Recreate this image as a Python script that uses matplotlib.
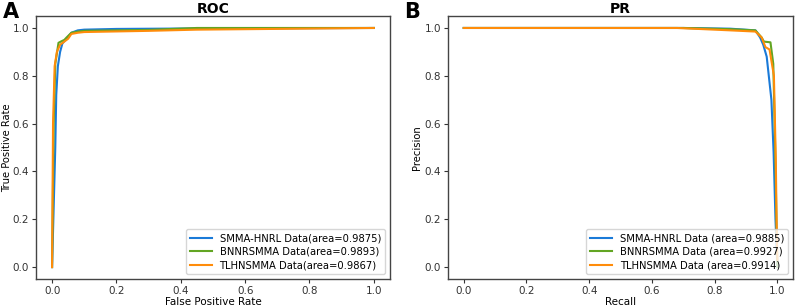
import matplotlib
matplotlib.use("Agg")
import matplotlib.pyplot as plt

# ROC curves (false positive rate, true positive rate)
roc_blue_x = [0.0, 0.010, 0.013, 0.018, 0.025, 0.032, 0.045, 0.06, 0.08, 0.10, 0.2, 0.45, 1.0]
roc_blue_y = [0.0, 0.50, 0.72, 0.84, 0.90, 0.935, 0.955, 0.98, 0.99, 0.993, 0.996, 0.998, 1.0]
roc_green_x = [0.0, 0.005, 0.010, 0.020, 0.030, 0.038, 0.045, 0.060, 0.080, 0.10, 0.3, 0.45, 1.0]
roc_green_y = [0.0, 0.60, 0.85, 0.938, 0.945, 0.95, 0.96, 0.98, 0.985, 0.988, 0.992, 1.0, 1.0]
roc_orange_x = [0.0, 0.003, 0.008, 0.015, 0.025, 0.035, 0.050, 0.060, 0.080, 0.10, 0.3, 0.45, 1.0]
roc_orange_y = [0.0, 0.60, 0.84, 0.90, 0.93, 0.94, 0.955, 0.975, 0.98, 0.983, 0.988, 0.993, 1.0]

# PR curves (recall, precision)
pr_blue_x = [0.0, 0.70, 0.85, 0.93, 0.945, 0.955, 0.966, 0.981, 0.988, 0.994, 1.0]
pr_blue_y = [1.0, 1.0, 0.997, 0.99, 0.96, 0.93, 0.88, 0.70, 0.48, 0.20, 0.0]
pr_green_x = [0.0, 0.70, 0.85, 0.93, 0.950, 0.957, 0.978, 0.987, 0.993, 0.997, 1.0]
pr_green_y = [1.0, 1.0, 0.995, 0.99, 0.96, 0.943, 0.94, 0.85, 0.50, 0.20, 0.0]
pr_orange_x = [0.0, 0.68, 0.85, 0.93, 0.95, 0.962, 0.975, 0.989, 0.995, 0.998, 1.0]
pr_orange_y = [1.0, 1.0, 0.99, 0.985, 0.96, 0.92, 0.91, 0.80, 0.45, 0.15, 0.03]

roc_labels = ["SMMA-HNRL Data(area=0.9875)", "BNNRSMMA Data(area=0.9893)", "TLHNSMMA Data(area=0.9867)"]
pr_labels = ["SMMA-HNRL Data (area=0.9885)", "BNNRSMMA Data (area=0.9927)", "TLHNSMMA Data (area=0.9914)"]

colors = ["#1a7ad8", "#62a523", "#ff8c0a"]
ticks = [0.0, 0.2, 0.4, 0.6, 0.8, 1.0]

plt.rcParams["font.family"] = "DejaVu Sans"
plt.rcParams["font.size"] = 7.5

fig = plt.figure(figsize=(8.03, 3.08), dpi=100)
ax1 = fig.add_axes([0.0448, 0.094, 0.4408, 0.854])
ax2 = fig.add_axes([0.558, 0.094, 0.4296, 0.854])

roc = [(roc_blue_x, roc_blue_y), (roc_green_x, roc_green_y), (roc_orange_x, roc_orange_y)]
pr = [(pr_blue_x, pr_blue_y), (pr_green_x, pr_green_y), (pr_orange_x, pr_orange_y)]

for (x, y), c, lab in zip(roc, colors, roc_labels):
    ax1.plot(x, y, color=c, lw=1.5, label=lab)
for (x, y), c, lab in zip(pr, colors, pr_labels):
    ax2.plot(x, y, color=c, lw=1.5, label=lab)

for ax, title, xl, yl, ylx in [
    (ax1, "ROC", "False Positive Rate", "True Positive Rate", -0.068),
    (ax2, "PR", "Recall", "Precision", -0.075),
]:
    ax.set_xlim(-0.05, 1.05)
    ax.set_ylim(-0.05, 1.05)
    ax.set_xticks(ticks)
    ax.set_yticks(ticks)
    ax.set_title(title, fontsize=10, fontweight="bold", pad=2)
    ax.set_xlabel(xl, labelpad=1)
    ax.set_ylabel(yl, fontsize=7.2)
    ax.yaxis.set_label_coords(ylx, 0.5)
    ax.tick_params(length=3, pad=2, colors="#333333")
    for s in ax.spines.values():
        s.set_edgecolor("#444444")
        s.set_linewidth(1.0)
    ax.legend(loc="lower right", fontsize=7.2, handlelength=2.2, borderpad=0.4,
              labelspacing=0.35, framealpha=0.8, fancybox=True)

fig.text(0.003, 0.995, "A", fontsize=15, fontweight="bold", va="top", ha="left")
fig.text(0.503, 0.995, "B", fontsize=15, fontweight="bold", va="top", ha="left")

fig.savefig("out.png", dpi=100)
